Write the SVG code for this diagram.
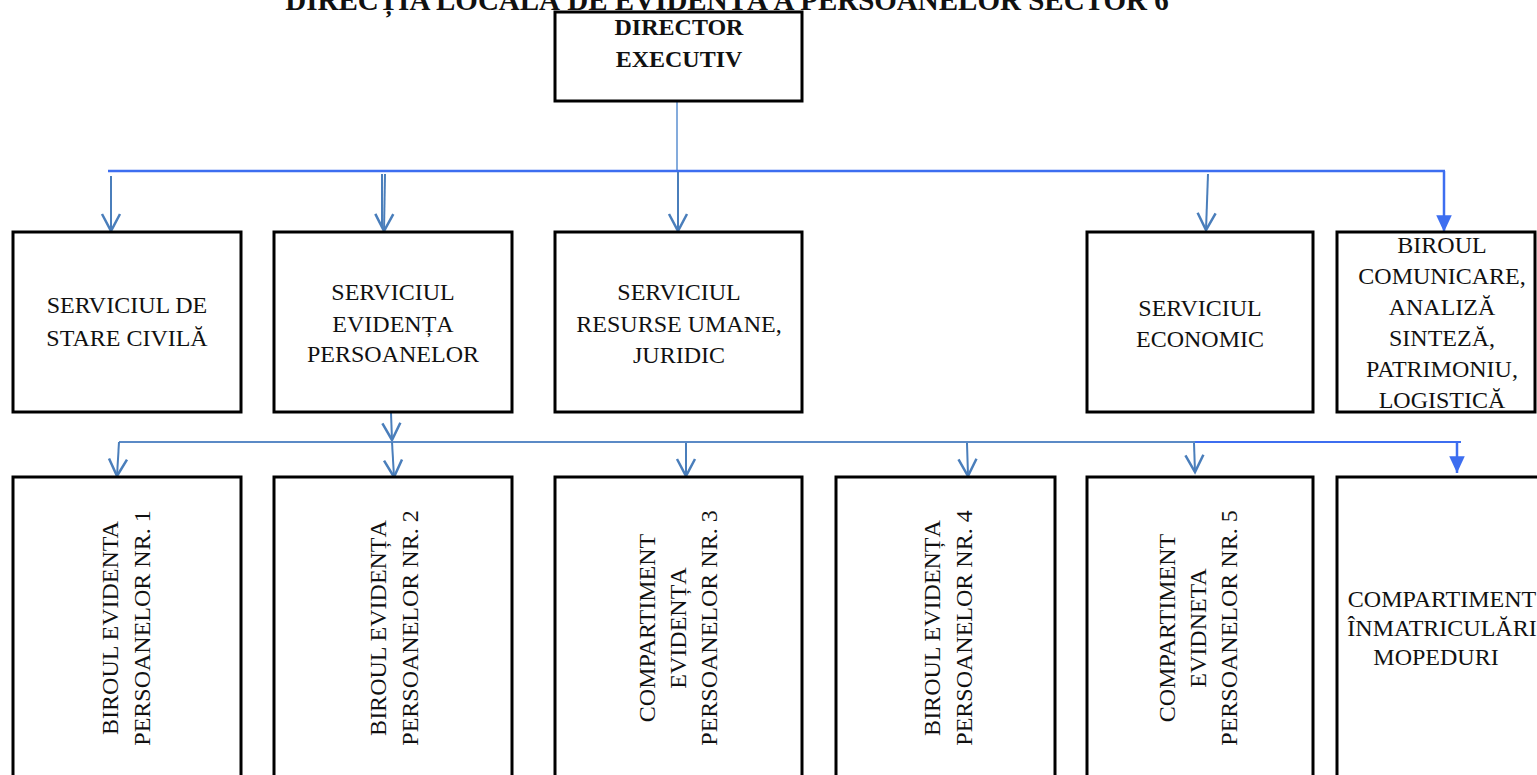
<svg xmlns="http://www.w3.org/2000/svg" width="1537" height="775" viewBox="0 0 1537 775">
<style>
  .box { fill: #ffffff; stroke: #000000; stroke-width: 3; }
  .t { font-family: "Liberation Serif", "Times New Roman", serif; font-size: 24px; fill: #111111; text-anchor: middle; }
  .b { font-weight: bold; }
  .c { fill: none; stroke: #4a7ebb; stroke-width: 2; }
  .cb { fill: none; stroke: #3d6ef0; stroke-width: 2.5; }
</style>
<defs>
  <marker id="open" markerUnits="userSpaceOnUse" markerWidth="24" markerHeight="24" viewBox="-20 -12 24 24" refX="0" refY="0" orient="auto">
    <path d="M-17,-9 L0,0 L-17,9" fill="none" stroke="#4a7ebb" stroke-width="2.5" stroke-linejoin="miter"/>
  </marker>
  <marker id="solid" markerUnits="userSpaceOnUse" markerWidth="20" markerHeight="20" viewBox="-16 -8 18 16" refX="0" refY="0" orient="auto">
    <path d="M-15,-7 L0,0 L-15,7 Z" fill="#3d6ef0"/>
  </marker>
</defs>
<rect width="1537" height="775" fill="#ffffff"/>

<text class="t b" x="727" y="10" style="font-size:29px">DIRECȚIA LOCALĂ DE EVIDENȚĂ A PERSOANELOR SECTOR 6</text>

<g id="connectors">
  <line class="c" x1="677" y1="101" x2="677" y2="171" style="stroke:#5b8fd0;stroke-width:1.5"/>
  <line class="cb" x1="108" y1="171" x2="1445" y2="171"/>
  <line class="c" x1="111" y1="176" x2="111" y2="231" marker-end="url(#open)"/>
  <line class="c" x1="382" y1="174" x2="382" y2="226"/>
  <line class="c" x1="385" y1="174" x2="384" y2="231" marker-end="url(#open)"/>
  <line class="c" x1="678" y1="172" x2="678" y2="231" marker-end="url(#open)"/>
  <line class="c" x1="1208" y1="174" x2="1206" y2="230" marker-end="url(#open)"/>
  <line class="cb" x1="1444" y1="171" x2="1444" y2="232" marker-end="url(#solid)"/>

  <line class="c" x1="391" y1="413" x2="392" y2="440" marker-end="url(#open)"/>
  <line class="c" x1="119" y1="442" x2="1195" y2="442" style="stroke:#5b8ac6;stroke-width:1.8"/>
  <line class="cb" x1="1195" y1="442" x2="1461" y2="442" style="stroke-width:2"/>
  <line class="c" x1="119" y1="442" x2="117" y2="476" marker-end="url(#open)"/>
  <line class="c" x1="392" y1="442" x2="394" y2="477" marker-end="url(#open)"/>
  <line class="c" x1="686" y1="443" x2="686" y2="476" marker-end="url(#open)"/>
  <line class="c" x1="967" y1="443" x2="968" y2="476" marker-end="url(#open)"/>
  <line class="c" x1="1194" y1="443" x2="1195" y2="472" marker-end="url(#open)"/>
  <line class="cb" x1="1457" y1="442" x2="1457" y2="473" marker-end="url(#solid)"/>
</g>

<g id="director">
  <rect class="box" x="555" y="12" width="247" height="89"/>
  <text class="t b" x="679" y="35">DIRECTOR</text>
  <text class="t b" x="679" y="67">EXECUTIV</text>
</g>

<g id="stare-civila">
  <rect class="box" x="13" y="232" width="228" height="180"/>
  <text class="t" x="127" y="313">SERVICIUL DE</text>
  <text class="t" x="127" y="346">STARE CIVILĂ</text>
</g>

<g id="evidenta-persoanelor">
  <rect class="box" x="274" y="232" width="238" height="180"/>
  <text class="t" x="393" y="300">SERVICIUL</text>
  <text class="t" x="393" y="332">EVIDENȚA</text>
  <text class="t" x="393" y="362">PERSOANELOR</text>
</g>

<g id="resurse-umane">
  <rect class="box" x="555" y="232" width="247" height="180"/>
  <text class="t" x="679" y="300">SERVICIUL</text>
  <text class="t" x="679" y="332">RESURSE UMANE,</text>
  <text class="t" x="679" y="363">JURIDIC</text>
</g>

<g id="economic">
  <rect class="box" x="1087" y="232" width="226" height="180"/>
  <text class="t" x="1200" y="316">SERVICIUL</text>
  <text class="t" x="1200" y="347">ECONOMIC</text>
</g>

<g id="biroul-comunicare">
  <rect class="box" x="1337" y="232" width="198" height="180"/>
  <text class="t" x="1442" y="253">BIROUL</text>
  <text class="t" x="1442" y="284">COMUNICARE,</text>
  <text class="t" x="1442" y="315">ANALIZĂ</text>
  <text class="t" x="1442" y="346">SINTEZĂ,</text>
  <text class="t" x="1442" y="377">PATRIMONIU,</text>
  <text class="t" x="1442" y="408">LOGISTICĂ</text>
</g>

<g id="birou-1">
  <rect class="box" x="13" y="477" width="228" height="320"/>
  <text class="t" transform="translate(118,628) rotate(-90)">BIROUL EVIDENTA<tspan x="0" dy="32">PERSOANELOR NR. 1</tspan></text>
</g>

<g id="birou-2">
  <rect class="box" x="274" y="477" width="238" height="320"/>
  <text class="t" transform="translate(386,628) rotate(-90)">BIROUL EVIDENȚA<tspan x="0" dy="32">PERSOANELOR NR. 2</tspan></text>
</g>

<g id="compartiment-3">
  <rect class="box" x="555" y="477" width="247" height="320"/>
  <text class="t" transform="translate(655,628) rotate(-90)">COMPARTIMENT<tspan x="0" dy="31">EVIDENȚA</tspan><tspan x="0" dy="31">PERSOANELOR NR. 3</tspan></text>
</g>

<g id="birou-4">
  <rect class="box" x="836" y="477" width="219" height="320"/>
  <text class="t" transform="translate(940,628) rotate(-90)">BIROUL EVIDENȚA<tspan x="0" dy="32">PERSOANELOR NR. 4</tspan></text>
</g>

<g id="compartiment-5">
  <rect class="box" x="1087" y="477" width="226" height="320"/>
  <text class="t" transform="translate(1175,628) rotate(-90)">COMPARTIMENT<tspan x="0" dy="31">EVIDNETA</tspan><tspan x="0" dy="31">PERSOANELOR NR. 5</tspan></text>
</g>

<g id="compartiment-inmatriculari">
  <rect class="box" x="1337" y="477" width="220" height="320"/>
  <text class="t" x="1442" y="607">COMPARTIMENT</text>
  <text class="t" x="1442" y="636">ÎNMATRICULĂRI</text>
  <text class="t" x="1436" y="665">MOPEDURI</text>
</g>
</svg>
